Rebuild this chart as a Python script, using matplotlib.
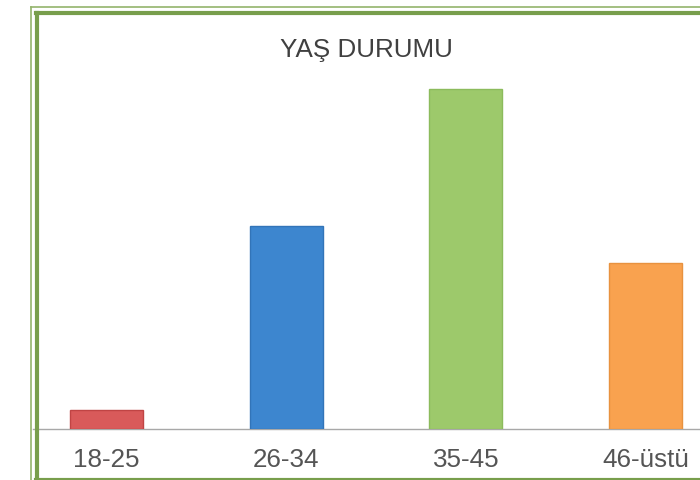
import matplotlib
matplotlib.use("Agg")
import matplotlib.pyplot as plt
from matplotlib.lines import Line2D

categories = ["18-25", "26-34", "35-45", "46-üstü"]
values = [4, 43, 72, 35]
bar_colors = ["#d95a5a", "#3d86cf", "#9dc96b", "#f9a24f"]
edge_colors = ["#c04444", "#3274b8", "#8cbb5c", "#e8923f"]
title = "YAŞ DURUMU"

W, H = 700, 481
fig = plt.figure(figsize=(W / 100, H / 100), dpi=100)
plt.rcParams['font.family'] = ['Liberation Sans', 'DejaVu Sans']

def fx(px):
    return px / W

def fy(py):
    return 1 - py / H

# axes: baseline at y=429.5, top at y=15, left at x=33, right at 700
ax = fig.add_axes([fx(33), fy(429.5), fx(700) - fx(33), fy(15) - fy(429.5)])
ax.bar(range(len(values)), values, width=0.405, color=bar_colors,
       edgecolor=edge_colors, linewidth=1.0, zorder=3)
ax.set_xlim(-0.409, 3.303)
ax.set_ylim(0, 87.9)
for s in ["top", "right", "left"]:
    ax.spines[s].set_visible(False)
ax.spines["bottom"].set_color("#a8a8a8")
ax.spines["bottom"].set_linewidth(1.0)
ax.set_yticks([])
ax.set_xticks(range(len(categories)))
ax.set_xticklabels(categories, fontsize=18.7, color="#555555")
ax.tick_params(axis="x", length=0, pad=13)
ax.patch.set_alpha(0)

fig.text(fx(366), fy(56.5), title, ha="center", va="baseline",
         fontsize=18.7, color="#404040")

# green double border (left, top, bottom)
thin = "#94b46c"
thick = "#789e4c"
fig.add_artist(Line2D([fx(31), fx(31)], [fy(482), fy(7.5)], color=thin, lw=1.2))
fig.add_artist(Line2D([fx(31), fx(701)], [fy(7.5), fy(7.5)], color=thin, lw=1.2))
fig.add_artist(Line2D([fx(37), fx(37)], [fy(482), fy(14)], color=thick, lw=3.0))
fig.add_artist(Line2D([fx(35.5), fx(701)], [fy(14), fy(14)], color=thick, lw=3.0))
fig.add_artist(Line2D([fx(35.5), fx(701)], [fy(480.5), fy(480.5)], color=thick, lw=3.0))

fig.savefig("out.png", dpi=100)
